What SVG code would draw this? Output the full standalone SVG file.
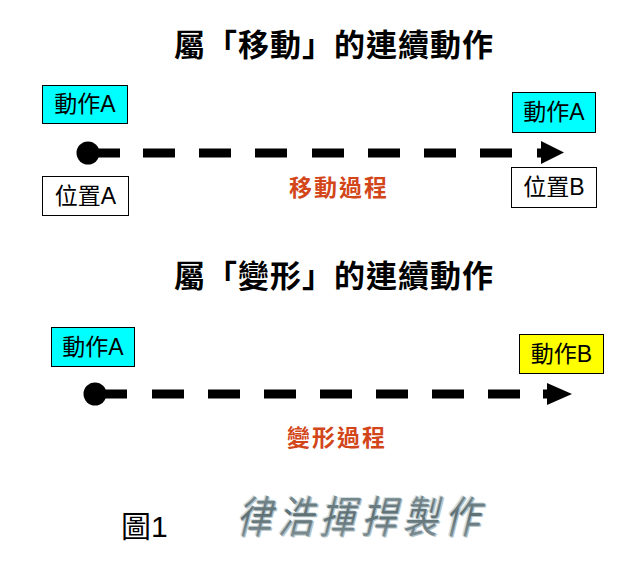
<svg xmlns="http://www.w3.org/2000/svg" width="630" height="565" viewBox="0 0 630 565">
<style>
.title{font-family:"Noto Sans CJK TC","Noto Sans CJK SC",sans-serif;font-size:31px;font-weight:bold;fill:#000;letter-spacing:1px}
.box{stroke:#000;stroke-width:1}
.cyan{fill:#00ffff}
.white{fill:#ffffff}
.yellow{fill:#ffff00}
.lbl{font-family:"Liberation Sans","Noto Sans CJK TC",sans-serif;font-size:23px;fill:#000;text-anchor:middle}
.proc{font-family:"Noto Sans CJK TC","Noto Sans CJK SC",sans-serif;font-size:23px;font-weight:bold;fill:#d2461a;text-anchor:middle;letter-spacing:2px}
.dash{stroke:#000;stroke-width:9;fill:none}
.fig{font-family:"Liberation Sans","Noto Sans CJK TC",sans-serif;font-size:30px;fill:#000}
.wm{font-family:"Noto Sans CJK TC","Noto Sans CJK SC",sans-serif;font-size:44px;font-weight:normal;letter-spacing:8px}
</style>
<defs>
<linearGradient id="wmg" x1="0" y1="0" x2="0" y2="1">
<stop offset="0" stop-color="#8fa0a6"/>
<stop offset="0.5" stop-color="#5f7075"/>
<stop offset="1" stop-color="#8a9aa0"/>
</linearGradient>
</defs>
<rect width="630" height="565" fill="#fff"/>

<g id="title1"><text class="title" x="334" y="56" text-anchor="middle">屬「移動」的連續動作</text></g>
<g id="title2"><text class="title" x="334" y="287" text-anchor="middle">屬「變形」的連續動作</text></g>

<g id="connectors">
<g id="conn-top">
<circle cx="88" cy="153" r="11.5" fill="#000"/>
<path class="dash" d="M88 153H120M143 153H175M199 153H231M255 153H287M312 153H344M368 153H400M424 153H456M480 153H512M537 153H545"/>
<polygon points="541,141 564,152.5 541,164" fill="#000"/>
</g>
<g id="conn-bottom">
<circle cx="95" cy="394" r="11.5" fill="#000"/>
<path class="dash" d="M95 394H127M152 394H184M208 394H240M264 394H296M320 394H352M376 394H408M432 394H464M488 394H520M543 394H551"/>
<polygon points="547,383 572,394 547,405" fill="#000"/>
</g>
</g>

<g id="n-top-actA"><rect class="box cyan" x="42.5" y="85.5" width="85" height="38"/><text class="lbl" x="85" y="112">動作A</text></g>
<g id="n-top-posA"><rect class="box white" x="42.5" y="176.5" width="86" height="39"/><text class="lbl" x="85.5" y="204">位置A</text></g>
<g id="n-top-actA2"><rect class="box cyan" x="512.5" y="92.5" width="83" height="40"/><text class="lbl" x="554" y="120">動作A</text></g>
<g id="n-top-posB"><rect class="box white" x="511.5" y="167.5" width="85" height="40"/><text class="lbl" x="554" y="195">位置B</text></g>
<g id="l-move"><text class="proc" x="339" y="196">移動過程</text></g>

<g id="n-bot-actA"><rect class="box cyan" x="51.5" y="327.5" width="83" height="39"/><text class="lbl" x="93" y="355">動作A</text></g>
<g id="n-bot-actB"><rect class="box yellow" x="519.5" y="334.5" width="84" height="39"/><text class="lbl" x="561.5" y="362">動作B</text></g>
<g id="l-deform"><text class="proc" x="337" y="446">變形過程</text></g>

<g id="caption"><text class="fig" x="121" y="537">圖1</text></g>
<g id="watermark" transform="translate(236,533) skewX(-14) scale(0.8,1)">
<text class="wm" x="-2" y="-1" fill="#d0dde0">律浩揮捍製作</text>
<text class="wm" x="2" y="1" fill="#b4c4c8">律浩揮捍製作</text>
<text class="wm" x="0" y="0" fill="url(#wmg)">律浩揮捍製作</text>
</g>
</svg>
